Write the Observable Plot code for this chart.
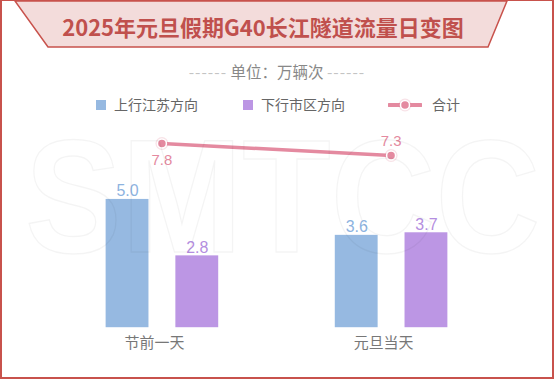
<!DOCTYPE html>
<html><head><meta charset="utf-8">
<script src="https://cdn.jsdelivr.net/npm/d3@7"></script>
<script src="https://cdn.jsdelivr.net/npm/@observablehq/plot@0.6"></script>
<style>
body{margin:0;background:#fff;}
#wrap{position:relative;width:554px;height:379px;overflow:hidden;background:#fff;font-family:"Noto Sans CJK SC","Noto Sans",sans-serif;box-sizing:border-box;border:2px solid #c8524c;border-top-width:1px;}
.abs{position:absolute;}
#title{left:0;width:522px;top:3px;height:44px;line-height:44px;text-align:center;font-size:22px;font-weight:700;color:#c0504d;}
#sub{left:0;width:550px;top:59px;text-align:center;font-size:15.5px;color:#888;line-height:22px;}
#sub .d{color:#c4c4c4;letter-spacing:1px;}
.leg{top:93px;font-size:14px;color:#666;line-height:20px;white-space:nowrap;}
.sw{display:inline-block;width:10px;height:10px;vertical-align:middle;margin-right:8px;position:relative;top:-1px;}
#chart,#line{left:-2px;top:109px;}
</style></head><body>
<div id="wrap">
<svg class="abs" style="left:-2px;top:-1px" width="554" height="60"><polygon points="15,1 507,1 488,47 48,47" fill="#f3dcdb" stroke="#c8524c" stroke-width="1.5"/></svg>
<div id="title" class="abs"></div>
<div id="sub" class="abs"></div>
<div id="legend"></div>
<div id="chart" class="abs"></div>
<div id="line" class="abs"></div>
<svg class="abs" style="left:-2px;top:-1px;pointer-events:none" width="554" height="379"><text x="25" y="252" font-family="Liberation Sans" font-weight="700" font-size="162" textLength="515" lengthAdjust="spacingAndGlyphs" fill="none" stroke="rgba(0,0,0,0.045)" stroke-width="1.5">SMTCC</text></svg>
</div>
<script>
const titleText = "2025年元旦假期G40长江隧道流量日变图";
const unitText = "单位：万辆次";
const categories = ["节前一天", "元旦当天"];
const seriesNames = ["上行江苏方向", "下行市区方向"];
const totalName = "合计";
const upValues = [5.0, 3.6];
const downValues = [2.8, 3.7];
const totals = [7.8, 7.3];
const colors = ["#96b9e1", "#bc96e4"];
const labelColors = ["#8db3df", "#b48ee0"];
const lineColor = "#e48aa0";
const numFont = '"Liberation Sans", Arial, sans-serif';

document.getElementById("title").textContent = titleText;
document.getElementById("sub").innerHTML = '<span class="d">------</span> ' + unitText + ' <span class="d">------</span>';

const legend = document.getElementById("legend");
const legPos = [94, 241];
seriesNames.forEach((s, i) => {
  const el = document.createElement("div");
  el.className = "abs leg";
  el.style.left = legPos[i] + "px";
  el.innerHTML = '<span class="sw" style="background:' + colors[i] + '"></span>' + s;
  legend.appendChild(el);
});
const tl = document.createElement("div");
tl.className = "abs leg";
tl.style.left = "386px";
tl.innerHTML = '<svg width="34" height="14" style="vertical-align:middle;margin-right:10px;position:relative;top:-1px"><line x1="1" y1="7" x2="33" y2="7" stroke="' + lineColor + '" stroke-width="4" stroke-linecap="round"/><circle cx="17" cy="7" r="6.5" fill="' + lineColor + '" opacity="0.25"/><circle cx="17" cy="7" r="4.5" fill="' + lineColor + '" stroke="#fff" stroke-width="1.5"/></svg>' + totalName;
legend.appendChild(tl);

const rows = categories.flatMap((c, i) => [
  {cat: c, series: seriesNames[0], value: upValues[i]},
  {cat: c, series: seriesNames[1], value: downValues[i]}
]);
const totalRows = categories.map((c, i) => ({cat: c, value: totals[i]}));

const common = {width: 554, height: 250, marginTop: 12, marginBottom: 32, marginLeft: 104, marginRight: 104,
  style: {background: "transparent", fontFamily: '"Noto Sans CJK SC", sans-serif', fontSize: "15px"}};

const bars = Plot.plot({
  ...common,
  fx: {domain: categories, paddingInner: 0.502, paddingOuter: 0, axis: null},
  x: {domain: seriesNames, paddingInner: 0.38, paddingOuter: 0, axis: null},
  y: {domain: [0, 8], axis: null},
  color: {domain: seriesNames, range: colors},
  marks: [
    Plot.axisFx({anchor: "bottom", tickSize: 0, tickPadding: 10, fill: "#777", dx: -8, label: null}),
    Plot.barY(rows, {fx: "cat", x: "series", y: "value", fill: "series"}),
    Plot.text(rows, {fx: "cat", x: "series", y: "value", text: d => d.value.toFixed(1), dy: -3, lineAnchor: "bottom",
      fill: d => labelColors[seriesNames.indexOf(d.series)], fontSize: 16, fontFamily: numFont})
  ]
});
document.getElementById("chart").appendChild(bars);

const line = Plot.plot({
  ...common,
  x: {type: "point", domain: categories, padding: 0.249, axis: null},
  y: {domain: [0.1, 8.68], axis: null},
  marks: [
    Plot.line(totalRows, {x: "cat", y: "value", stroke: lineColor, strokeWidth: 3.5}),
    Plot.dot(totalRows, {x: "cat", y: "value", r: 6.5, fill: lineColor, fillOpacity: 0.25}),
    Plot.dot(totalRows, {x: "cat", y: "value", r: 4.5, fill: lineColor, stroke: "#fff", strokeWidth: 1.5}),
    Plot.text(totalRows.filter((d, i) => i === 0), {x: "cat", y: "value", text: d => d.value.toFixed(1), dy: 17, fill: lineColor, fontSize: 15, fontFamily: numFont}),
    Plot.text(totalRows.filter((d, i) => i === 1), {x: "cat", y: "value", text: d => d.value.toFixed(1), dy: -14, fill: lineColor, fontSize: 15, fontFamily: numFont})
  ]
});
document.getElementById("line").appendChild(line);
</script>
</body></html>
